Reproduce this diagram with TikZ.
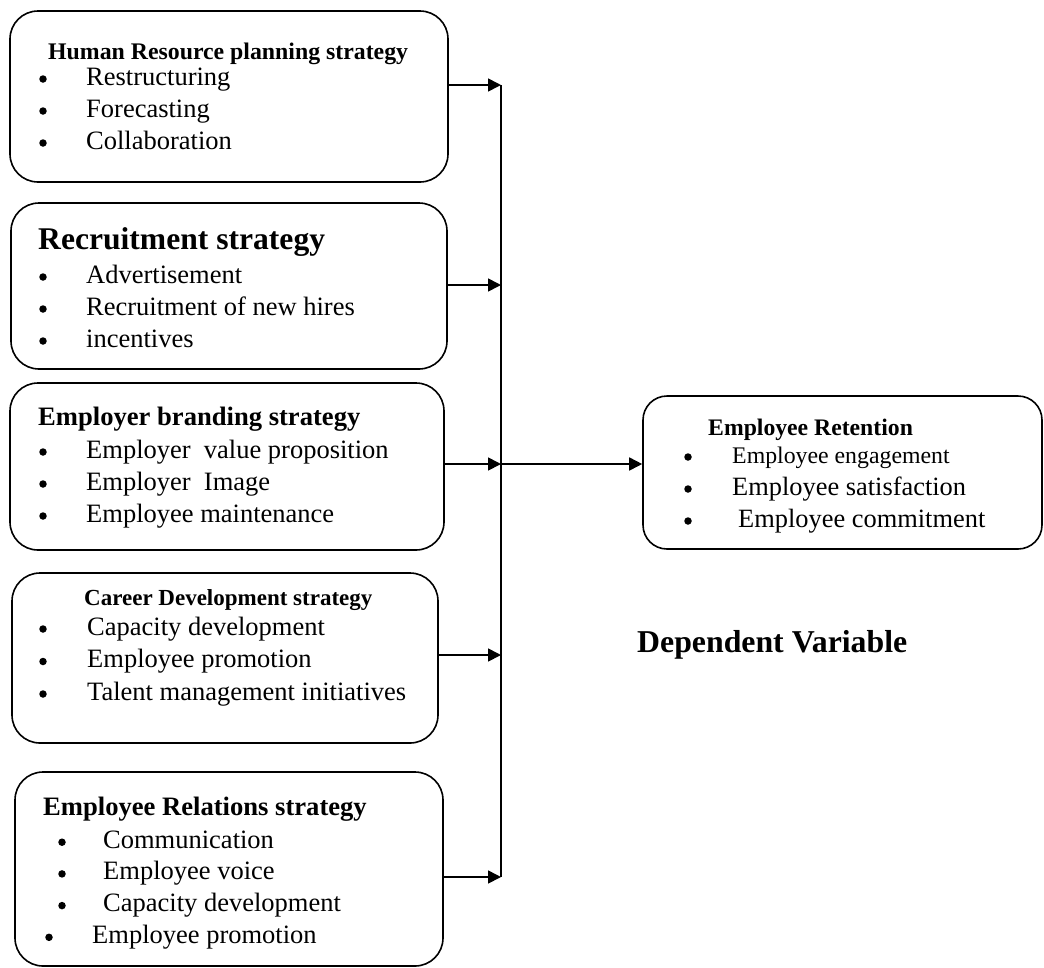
\documentclass[tikz,border=0pt]{standalone}
\usepackage{fontspec}
\setmainfont{Liberation Serif}
\usetikzlibrary{arrows.meta,fit}

\tikzset{
  strat/.style={draw, line width=1.6pt, rounded corners=28pt, inner sep=0pt},
  head/.style={font={\bfseries\fontsize{#1}{#1}\selectfont}, anchor=base west, inner sep=0pt},
  entry/.style={font={\fontsize{#1}{#1}\selectfont}, anchor=base west, inner sep=0pt},
  bul/.style={circle, fill, inner sep=0pt, minimum size=7.5pt},
  feed/.style={line width=1.7pt, -{Triangle[length=13pt,width=13pt]}},
}

\begin{document}
\begin{tikzpicture}[x=1pt,y=-1pt]
    \useasboundingbox (0,0) rectangle (1044,967);

    % independent variables, one box each
    \node[strat, fit={(10,11) (448,182)}] (hr) {};
    \node[strat, fit={(11,203) (447,369)}] (rec) {};
    \node[strat, fit={(10,383) (444,550)}] (brand) {};
    \node[strat, fit={(12,573) (438,743)}] (career) {};
    \node[strat, fit={(15,772) (443,966)}] (rel) {};
    % dependent variable
    \node[strat, rounded corners=24pt, fit={(643,396) (1042,549)}] (ret) {};

    \node[head=23.8] (hr-t) at (48,59) {Human Resource planning strategy};
    \foreach \t [count=\k] in {Restructuring, Forecasting, Collaboration}{
        \node[bul] (hr-b\k) at (43,47+32*\k) {};
        \node[entry=26.5] (hr-\k) at (86,53+32*\k) {\t};
    }

    \node[head=31.6] (rec-t) at (38,249) {Recruitment strategy};
    \foreach \t [count=\k] in {Advertisement, Recruitment of new hires, incentives}{
        \node[bul] (rec-b\k) at (43,245+32*\k) {};
        \node[entry=26.5] (rec-\k) at (86,251+32*\k) {\t};
    }

    \node[head=26.6] (brand-t) at (38,425) {Employer branding strategy};
    \foreach \t [count=\k] in {Employer\ \ value proposition, Employer\ \ Image, Employee maintenance}{
        \node[bul] (brand-b\k) at (43,420+32*\k) {};
        \node[entry=26.5] (brand-\k) at (86,426+32*\k) {\t};
    }

    \node[head=23.0] (career-t) at (84,605) {Career Development strategy};
    \foreach \t [count=\k] in {Capacity development, Employee promotion, Talent management initiatives}{
        \node[bul] (career-b\k) at (43,596.5+32.5*\k) {};
        \node[entry=26.5] (career-\k) at (87,602.5+32.5*\k) {\t};
    }

    \node[head=26.6] (rel-t) at (43,815) {Employee Relations strategy};
    \foreach \bx/\tx/\t [count=\k] in {62/103/Communication, 62/103/Employee voice, 62/103/Capacity development, 49/92/Employee promotion}{
        \node[bul] (rel-b\k) at (\bx,810.5+31.7*\k) {};
        \node[entry=26.5] (rel-\k) at (\tx,816.5+31.7*\k) {\t};
    }

    \node[head=23.7] (ret-t) at (708,435) {Employee Retention};
    \foreach \s/\tx/\t [count=\k] in {23.8/732/Employee engagement, 26.4/732/Employee satisfaction, 26.4/738/Employee commitment}{
        \node[bul] (ret-b\k) at (688,425+32*\k) {};
        \node[entry=\s] (ret-\k) at (\tx,431+32*\k) {\t};
    }

    \node[head=31.8] (dv) at (637,652) {Dependent Variable};

    % arrows into the collecting line
    \foreach \b/\y [count=\k] in {hr/85, rec/285, brand/464, career/655, rel/877}{
        \coordinate (j\k) at (501,\y);
        \draw[feed] (\b.east |- j\k) -- (j\k);
    }
    \draw[line width=1.7pt] (j1) -- (j5);
    \draw[feed] (j3) -- (ret.west |- j3);
\end{tikzpicture}
\end{document}
